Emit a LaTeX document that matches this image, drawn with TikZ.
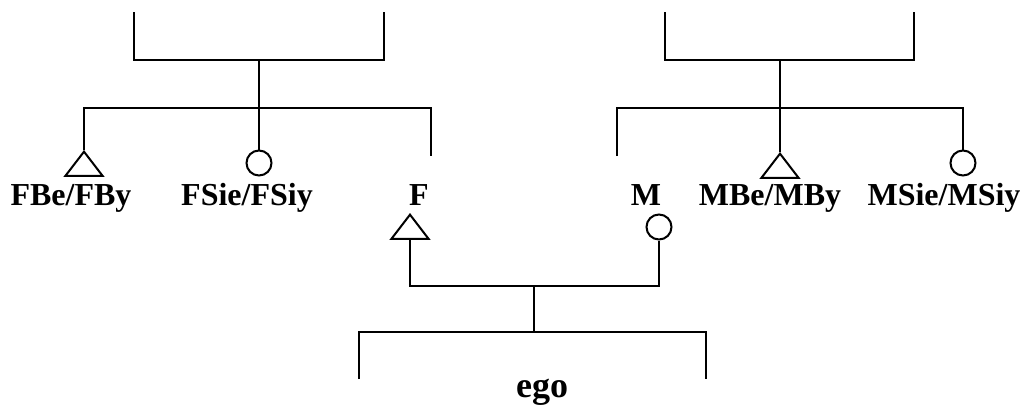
\documentclass[tikz,border=0pt]{standalone}
\usepackage{fontspec}
\setmainfont{Liberation Serif}
\usetikzlibrary{shapes.geometric}

\tikzset{
  kin line/.style={line width=2pt, black},
  male/.style={
    isosceles triangle, isosceles triangle apex angle=75,
    shape border rotate=90, draw, line width=2pt,
    minimum width=37pt, inner sep=0pt, anchor=apex
  },
  female/.style={circle, draw, line width=2pt, minimum size=25pt, inner sep=0pt},
  kin label/.style={font=\fontsize{32}{38}\selectfont\bfseries, anchor=base, inner sep=0pt}
}

\begin{document}
\begin{tikzpicture}[x=1pt, y=-1pt]
  \useasboundingbox (0,0) rectangle (1028,405);

  % father's parents
  \coordinate (fgf) at (134,12);
  \coordinate (fgm) at (384,12);
  \coordinate (fgp) at (259,60);
  \draw[kin line] (fgf) -- (134,60) -- (384,60) -- (fgm);
  % father's siblings
  \coordinate (fsib) at (259,108);
  \node[male] (fb) at (84,150) {};
  \node[female] (fz) at (259,163) {};
  \coordinate (fend) at (431,156);
  \draw[kin line] (fgp) -- (fsib);
  \draw[kin line] (fb.apex) -- (84,108) -- (431,108) -- (fend);
  \draw[kin line] (fsib) -- (fz);
  \node[kin label] (fblab) at (71,205) {FBe/FBy};
  \node[kin label] (fzlab) at (247,205) {FSie/FSiy};
  \node[kin label] (flab) at (419,205) {F};

  % mother's parents
  \coordinate (mgf) at (665,12);
  \coordinate (mgm) at (914,12);
  \coordinate (mgp) at (780,60);
  \draw[kin line] (mgf) -- (665,60) -- (914,60) -- (mgm);
  % mother's siblings
  \node[male] (mb) at (780,152) {};
  \node[female] (mz) at (963,163) {};
  \coordinate (mend) at (617,156);
  \draw[kin line] (mgp) -- (mb.apex);
  \draw[kin line] (mend) -- (617,108) -- (963,108) -- (mz);
  \node[kin label] (mlab) at (646,205) {M};
  \node[kin label] (mblab) at (770,205) {MBe/MBy};
  \node[kin label] (mzlab) at (944,205) {MSie/MSiy};

  % ego's parents
  \node[male] (f) at (410,213) {};
  \node[female] (m) at (659,227) {};
  \coordinate (par) at (534,286);
  \draw[kin line] (f.south) -- (410,286) -- (659,286) -- (m);
  % ego and siblings
  \coordinate (egl) at (359,379);
  \coordinate (egr) at (706,379);
  \draw[kin line] (par) -- (534,332);
  \draw[kin line] (egl) -- (359,332) -- (706,332) -- (egr);
  \node[kin label, font=\fontsize{36}{42}\selectfont\bfseries] (ego) at (542,397) {ego};
\end{tikzpicture}
\end{document}
